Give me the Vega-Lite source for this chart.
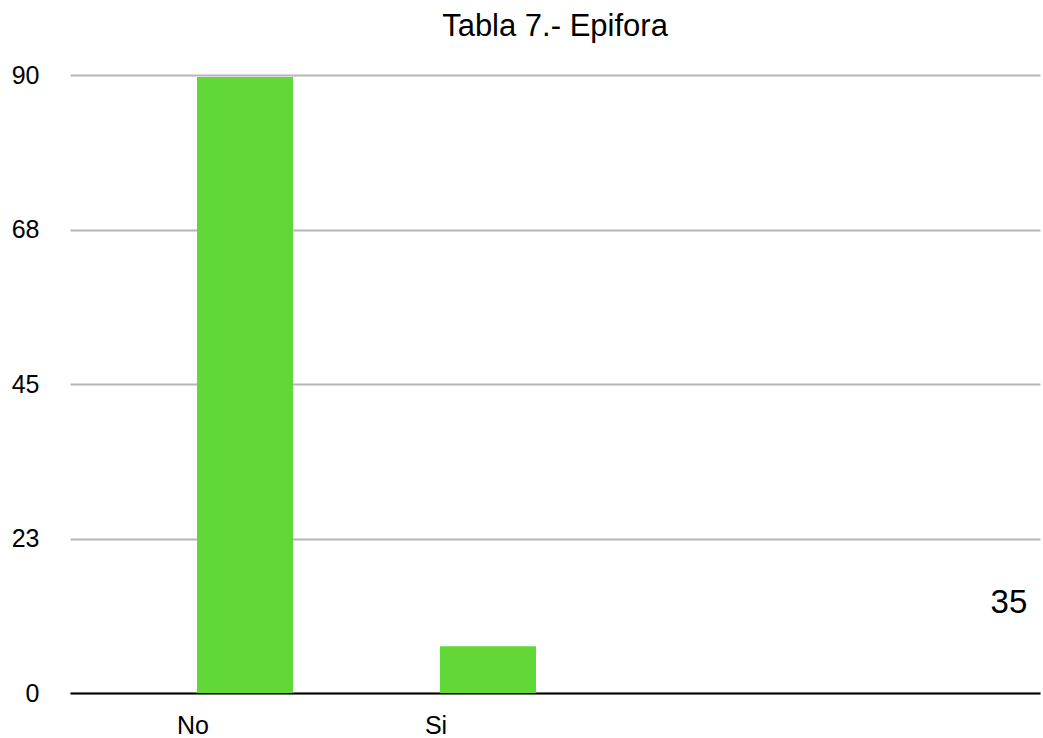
{
  "$schema": "https://vega.github.io/schema/vega-lite/v6.json",
  "width": 970,
  "height": 618,
  "autosize": {"type": "none"},
  "padding": {"left": 70, "top": 75, "right": 3, "bottom": 45},
  "background": "white",
  "config": {
    "view": {"stroke": null},
    "font": "Liberation Sans"
  },
  "title": {
    "text": "Tabla 7.- Epifora",
    "fontSize": 31,
    "fontWeight": "normal",
    "color": "black",
    "font": "Liberation Sans",
    "anchor": "middle",
    "frame": "group",
    "offset": 20
  },
  "layer": [
    {
      "data": {"values": [
        {"categoria": "No", "valor": 89.7},
        {"categoria": "Si", "valor": 6.8}
      ]},
      "mark": {"type": "bar", "color": "#62d838"},
      "encoding": {
        "x": {
          "field": "categoria",
          "type": "nominal",
          "sort": null,
          "scale": {"domain": ["No", "Si", "c3", "c4"], "paddingInner": 0.6049, "paddingOuter": 0.2982, "align": 0.876},
          "axis": {
            "title": null,
            "labelAngle": 0,
            "labelExpr": "datum.value == 'No' || datum.value == 'Si' ? datum.label : ''",
            "labelFontSize": 25,
            "labelColor": "black",
            "labelOffset": -52,
            "labelPadding": 20,
            "ticks": false,
            "tickSize": 0,
            "domain": true,
            "domainColor": "black",
            "domainWidth": 2,
            "grid": false
          }
        },
        "y": {
          "field": "valor",
          "type": "quantitative",
          "scale": {"domain": [0, 90], "nice": false},
          "axis": {
            "title": null,
            "values": [0, 22.5, 45, 67.5, 90],
            "labelExpr": "format(datum.value, '.0f')",
            "labelFontSize": 25,
            "labelColor": "black",
            "labelPadding": 31,
            "ticks": false,
            "tickSize": 0,
            "domain": false,
            "grid": true,
            "gridColor": "#b5b5b5",
            "gridWidth": 2
          }
        }
      }
    },
    {
      "data": {"values": [
        {"pos": 0.968, "valor": 13.1, "etiqueta": "35"}
      ]},
      "mark": {"type": "text", "fontSize": 33, "color": "black", "align": "center", "baseline": "middle"},
      "encoding": {
        "x": {"field": "pos", "type": "quantitative", "scale": {"domain": [0, 1]}, "axis": null},
        "y": {"field": "valor", "type": "quantitative"},
        "text": {"field": "etiqueta"}
      }
    }
  ],
  "resolve": {"scale": {"x": "independent"}}
}
